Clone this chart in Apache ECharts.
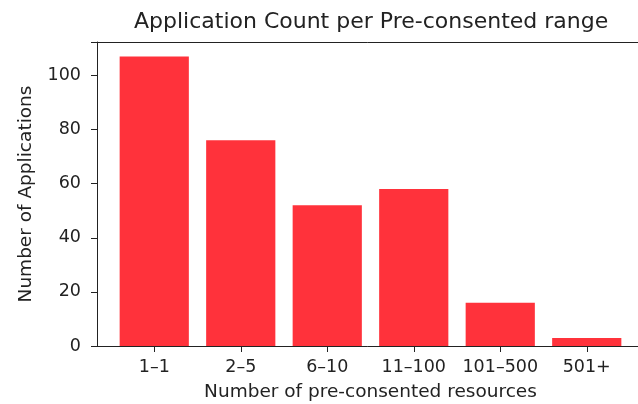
<!DOCTYPE html>
<html lang="en">
<head>
  <meta charset="UTF-8">
  <title>Application Count per Pre-consented range</title>
  <style>
    html, body { margin: 0; padding: 0; background: #fff; }
  </style>
</head>
<body>
  <div id="main" style="width:638px;height:404px;"></div>

  <script src="https://cdn.jsdelivr.net/npm/echarts@6/dist/echarts.min.js"></script>
  <script>
    // data
    var ranges = ['1\u20131', '2\u20135', '6\u201310', '11\u2013100', '101\u2013500', '501+']
    var appCounts = [107, 76, 52, 58, 16, 3]
    var yTicks = [0, 20, 40, 60, 80, 100]

    var yMax = 112.35
    var font = 'DejaVu Sans'
    var ink = '#222'

    var myChart = echarts.init(document.getElementById('main'))

    var options = {
      animation: false,
      title: {
        text: 'Application Count per Pre-consented range',
        left: 129,
        top: 6,
        textStyle: { fontFamily: font, fontSize: 22, fontWeight: 'normal', color: ink }
      },
      grid: [
        // frame: matplotlib axes, cropped on the right
        { left: 97, right: -9, top: 42, bottom: 58, outerBoundsMode: 'none', containLabel: false },
        // bars: same height, narrower so category bands line up
        { left: 111, right: 8, top: 42, bottom: 58, outerBoundsMode: 'none', containLabel: false }
      ],
      xAxis: [
        {
          gridIndex: 0, type: 'value', min: 0, max: 1, position: 'bottom',
          axisLine: { show: true, lineStyle: { color: ink, width: 1 } },
          axisTick: { show: false }, axisLabel: { show: false }, splitLine: { show: false }
        },
        {
          gridIndex: 0, type: 'value', min: 0, max: 1, position: 'top',
          axisLine: { show: true, lineStyle: { color: ink, width: 1 } },
          axisTick: { show: false }, axisLabel: { show: false }, splitLine: { show: false }
        },
        {
          gridIndex: 1, type: 'category', data: ranges,
          axisLine: { show: false },
          axisTick: { show: true, alignWithLabel: true, interval: 0, length: 6, lineStyle: { color: ink } },
          axisLabel: { fontFamily: font, fontSize: 17.5, color: ink, margin: 12, interval: 0 },
          name: 'Number of pre-consented resources',
          nameLocation: 'middle',
          nameGap: 37,
          nameTextStyle: { fontFamily: font, fontSize: 18.5, color: ink }
        }
      ],
      yAxis: [
        {
          gridIndex: 0, type: 'value', min: 0, max: yMax, interval: 20,
          axisLine: { show: true, lineStyle: { color: ink, width: 1 } },
          axisTick: { show: true, length: 6, lineStyle: { color: ink } },
          axisLabel: {
            fontFamily: font, fontSize: 17.5, color: ink, margin: 16,
            formatter: function (v) { return yTicks.indexOf(v) >= 0 ? String(v) : '' }
          },
          splitLine: { show: false },
          name: 'Number of Applications',
          nameLocation: 'middle',
          nameGap: 61,
          nameTextStyle: { fontFamily: font, fontSize: 18.5, color: ink }
        },
        {
          gridIndex: 1, type: 'value', min: 0, max: yMax, show: false
        }
      ],
      series: [
        {
          type: 'bar',
          xAxisIndex: 2,
          yAxisIndex: 1,
          data: appCounts,
          barWidth: '80%',
          itemStyle: { color: '#ff323b' }
        }
      ]
    }
    myChart.setOption(options)
  </script>
</body>
</html>
